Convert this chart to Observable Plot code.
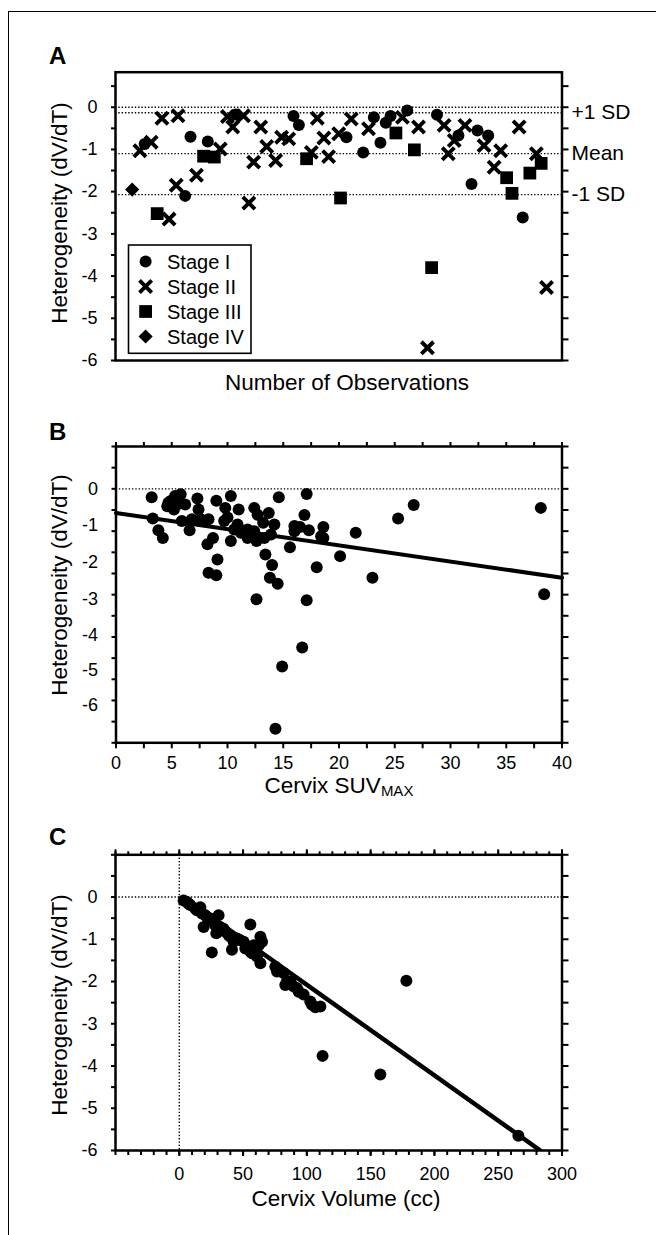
<!DOCTYPE html>
<html><head><meta charset="utf-8">
<script src="https://cdn.jsdelivr.net/npm/d3@7"></script>
<script src="https://cdn.jsdelivr.net/npm/@observablehq/plot@0.6"></script>
<style>
html,body{margin:0;padding:0;background:#fff;}
#wrap{position:relative;width:656px;height:1235px;overflow:hidden;background:#fff;}
#border{position:absolute;left:8px;top:11px;width:700px;height:1300px;border-left:1.5px solid #000;border-top:1.5px solid #000;}
.panel{position:absolute;left:0;}
#overlay{position:absolute;left:0;top:0;pointer-events:none;}
</style></head><body><div id="wrap"><div id="border"></div></div>
<script>
// ---------------- DATA ----------------
// Panel A: heterogeneity by observation, split by stage
const stageNames = ["Stage I", "Stage II", "Stage III", "Stage IV"];
const stageIObs = [4.9,11.7,12.6,15.5,20.2,29.9,30.8,38.8,41.6,43.4,44.5,45.4,46.2,49.0,54.0,57.6,59.8,60.8,62.6,68.4];
const stageIHet = [-0.87,-2.10,-0.70,-0.81,-0.17,-0.21,-0.42,-0.71,-1.07,-0.24,-0.84,-0.37,-0.21,-0.08,-0.18,-0.67,-1.82,-0.55,-0.67,-2.61];
const stageIIObs = [4.1,6.0,7.8,9.0,10.2,10.5,13.6,17.6,18.8,19.7,21.5,22.4,23.2,24.4,25.4,26.9,27.9,29.1,32.9,33.9,35.0,35.8,37.5,39.6,42.5,48.2,50.9,52.4,55.2,55.9,56.9,58.7,61.9,63.6,64.7,67.8,70.7,72.4];
const stageIIHet = [-1.03,-0.83,-0.26,-2.65,-1.85,-0.20,-1.61,-0.99,-0.22,-0.47,-0.20,-2.27,-1.30,-0.47,-0.93,-1.26,-0.71,-0.75,-1.07,-0.26,-0.73,-1.17,-0.63,-0.28,-0.51,-0.24,-0.47,-5.70,-0.43,-1.10,-0.79,-0.43,-0.91,-1.42,-1.03,-0.47,-1.10,-4.27];
const stageIIIObs = [7.0,14.8,16.6,32.1,37.8,47.1,50.2,53.1,65.7,66.6,69.6,71.5];
const stageIIIHet = [-2.52,-1.16,-1.18,-1.22,-2.15,-0.61,-1.01,-3.80,-1.67,-2.04,-1.56,-1.33];
const stageIVObs = [2.8];
const stageIVHet = [-1.95];
const aMean = -1.10;
const aSD = 0.97;
const aRefLabels = ["+1 SD", "Mean", "-1 SD"];

// Panel B: heterogeneity vs cervix SUVmax
const bSuv = [3.2,3.3,3.8,4.2,4.6,4.7,4.9,5.1,5.2,5.3,5.5,5.8,5.9,6.2,6.6,6.8,7.3,7.4,7.6,8.2,8.3,8.3,8.7,9.0,9.0,9.1,9.7,9.8,10.0,10.3,10.3,10.6,10.9,11.0,11.2,11.8,11.8,12.4,12.4,12.6,12.6,12.7,13.2,13.3,13.4,13.7,13.8,13.9,14.0,14.2,14.3,14.5,14.6,14.9,15.6,16.0,16.0,16.5,16.7,16.9,17.1,17.1,17.3,18.0,18.4,18.6,18.6,20.1,21.5,23.0,25.3,26.7,38.1,38.4];
const bHet = [-0.20,-0.70,-0.98,-1.16,-0.41,-0.33,-0.29,-0.45,-0.49,-0.17,-0.37,-0.13,-0.76,-0.37,-0.98,-0.72,-0.23,-0.49,-0.72,-1.31,-0.72,-1.98,-1.16,-2.04,-0.28,-1.67,-0.76,-0.45,-0.68,-0.17,-1.23,-0.96,-0.84,-0.49,-1.04,-1.16,-0.96,-0.45,-1.00,-1.23,-2.61,-0.61,-0.80,-1.16,-1.55,-0.57,-2.10,-1.08,-1.80,-0.84,-5.67,-2.24,-0.20,-4.20,-1.38,-0.88,-1.00,-0.90,-3.75,-0.62,-0.12,-2.63,-0.98,-1.85,-1.12,-0.90,-1.16,-1.59,-1.04,-2.10,-0.70,-0.38,-0.45,-2.49];
const bFitX = [0, 40];
const bFitY = [-0.57, -2.10];
const bYLabels = ["0", "-1", "-2", "-3", "-4", "-5", "-6"];
const bYLabelPos = [0, -0.87, -1.74, -2.6, -3.45, -4.28, -5.12];

// Panel C: heterogeneity vs cervix volume
const cVol = [3.4,6.0,7.3,8.6,12.5,13.8,16.5,17.8,19.1,20.4,21.7,24.3,25.5,26.9,28.2,29.0,30.8,32.1,34.7,36.1,38.6,40.0,41.3,42.6,45.2,47.8,50.5,51.8,54.4,55.7,55.7,57.0,58.3,59.6,60.9,62.3,63.6,63.6,64.9,75.3,76.6,81.8,83.1,84.4,87.1,89.7,92.3,93.6,97.5,102.7,104.0,106.7,110.6,112.3,157.6,178.0,265.8];
const cHet = [-0.08,-0.12,-0.16,-0.19,-0.27,-0.31,-0.24,-0.39,-0.71,-0.43,-0.47,-0.51,-1.31,-0.59,-0.67,-0.86,-0.43,-0.71,-0.75,-0.82,-0.90,-0.94,-1.25,-1.06,-0.98,-1.02,-1.06,-1.22,-1.18,-0.65,-1.29,-1.33,-1.14,-1.25,-1.41,-1.14,-0.94,-1.57,-1.06,-1.65,-1.76,-1.80,-2.08,-2.00,-2.00,-2.12,-2.16,-2.24,-2.31,-2.47,-2.55,-2.61,-2.59,-3.76,-4.20,-1.98,-5.65];
const cFitX = [3, 283];
const cFitY = [0.0, -6.0];

// ---------------- BUILD ----------------
const FONT = '"Liberation Sans", Arial, Helvetica, sans-serif';
const zip = (xs, ys) => xs.map((x, i) => ({x, y: ys[i]}));
const aI = zip(stageIObs, stageIHet), aII = zip(stageIIObs, stageIIHet),
      aIII = zip(stageIIIObs, stageIIIHet), aIV = zip(stageIVObs, stageIVHet);
const bPts = zip(bSuv, bHet), bFit = zip(bFitX, bFitY);
const cPts = zip(cVol, cHet), cFit = zip(cFitX, cFitY);
const aRefs = [aMean + aSD, aMean, aMean - aSD].map((v, i) => ({v, label: aRefLabels[i]}));
const bLab = bYLabels.map((t, i) => ({t, p: bYLabelPos[i]}));

const dotted = {stroke: "#000", strokeWidth: 1.4, strokeDasharray: "1.4,1.9"};
const styleObj = {fontFamily: FONT, fontSize: "18px", color: "#000", background: "transparent", overflow: "visible"};
const intLabel = d => (Number.isInteger(d) && d <= 0) ? String(d) : "";
const sym = {
  "Stage I": {symbol: "circle", r: 6, fill: "#000", stroke: "none"},
  "Stage II": {symbol: "times", r: 5.6, fill: "none", stroke: "#000", strokeWidth: 3.9},
  "Stage III": {symbol: "square", r: 7.2, fill: "#000", stroke: "none"},
  "Stage IV": {symbol: "diamond2", r: 6.4, fill: "#000", stroke: "none"}
};
const yTicks = (lo, hi) => d3.range(lo, hi + 1e-9, 0.5).filter(v => v >= lo - 1e-9);

function yAxes(top) {
  return [
    Plot.axisY(yTicks(-6, top), {anchor: "left", tickSize: 4, tickPadding: 14, strokeWidth: 2, tickFormat: intLabel, label: null, fontSize: 18}),
    Plot.axisY(yTicks(-6, top), {anchor: "right", tickSize: 6, strokeWidth: 2, tickFormat: () => "", label: null})
  ];
}

// Panel A
const plotA = Plot.plot({
  width: 656, height: 340, marginTop: 11.7, marginBottom: 40, marginLeft: 115, marginRight: 94.5,
  style: styleObj,
  x: {domain: [0, 75], axis: null},
  y: {domain: [-6, 0.83], axis: null},
  marks: [
    Plot.ruleY([0], dotted),
    Plot.ruleY(aRefs, {y: "v", ...dotted}),
    ...yAxes(0.83),
    Plot.text(aRefs, {y: "v", text: "label", frameAnchor: "right", dx: 9.5, textAnchor: "start", lineAnchor: "middle", fontSize: 21}),
    Plot.dot(aI, {x: "x", y: "y", ...sym["Stage I"]}),
    Plot.dot(aII, {x: "x", y: "y", ...sym["Stage II"]}),
    Plot.dot(aIII, {x: "x", y: "y", ...sym["Stage III"]}),
    Plot.dot(aIV, {x: "x", y: "y", ...sym["Stage IV"]}),
    Plot.frame({stroke: "#000", strokeWidth: 2.5})
  ]
});

// Panel B
const plotB = Plot.plot({
  width: 656, height: 352.3, marginTop: 16, marginBottom: 40, marginLeft: 115.5, marginRight: 94.5,
  style: styleObj,
  x: {domain: [0, 40], axis: null},
  y: {domain: [-6, 1], axis: null},
  marks: [
    Plot.ruleY([0], dotted),
    Plot.axisY(yTicks(-6, 1), {anchor: "left", tickSize: 4, strokeWidth: 2, tickFormat: () => "", label: null}),
    Plot.axisY(yTicks(-6, 1), {anchor: "right", tickSize: 6, strokeWidth: 2, tickFormat: () => "", label: null}),
    Plot.text(bLab, {y: "p", text: "t", frameAnchor: "left", dx: -18, textAnchor: "end", lineAnchor: "middle", fontSize: 18}),
    Plot.axisX(d3.range(0, 40.01, 2.5), {anchor: "top", tickSize: 5, strokeWidth: 2, tickFormat: () => "", label: null}),
    Plot.axisX(d3.range(0, 40.01, 2.5), {anchor: "bottom", tickSize: 6, tickPadding: 7, strokeWidth: 2, tickFormat: d => d % 5 === 0 ? String(d) : "", label: null, fontSize: 18}),
    Plot.line(bFit, {x: "x", y: "y", stroke: "#000", strokeWidth: 4}),
    Plot.dot(bPts, {x: "x", y: "y", ...sym["Stage I"]}),
    Plot.frame({stroke: "#000", strokeWidth: 2.5})
  ]
});

// Panel C
const plotC = Plot.plot({
  width: 656, height: 350, marginTop: 14.3, marginBottom: 40, marginLeft: 115, marginRight: 94.5,
  style: styleObj,
  x: {domain: [-50, 300], axis: null},
  y: {domain: [-6, 1], axis: null},
  marks: [
    Plot.ruleY([0], dotted),
    Plot.ruleX([0], dotted),
    ...yAxes(1),
    Plot.axisX(d3.range(-50, 300.1, 10), {anchor: "top", tickSize: 4, strokeWidth: 2, tickFormat: () => "", label: null}),
    Plot.axisX(d3.range(-50, 300.1, 50), {anchor: "top", tickSize: 6, strokeWidth: 2, tickFormat: () => "", label: null}),
    Plot.axisX(d3.range(-50, 300.1, 10), {anchor: "bottom", tickSize: 5, strokeWidth: 2, tickFormat: () => "", label: null}),
    Plot.axisX(d3.range(0, 300.1, 50), {anchor: "bottom", tickSize: 6, tickPadding: 11, strokeWidth: 2, label: null, fontSize: 18, tickFormat: d => String(d)}),
    Plot.line(cFit, {x: "x", y: "y", stroke: "#000", strokeWidth: 4.5, clip: true}),
    Plot.dot(cPts, {x: "x", y: "y", ...sym["Stage I"]}),
    Plot.frame({stroke: "#000", strokeWidth: 2.5})
  ]
});

const wrap = document.getElementById("wrap");
[[plotA, 60], [plotB, 430], [plotC, 840]].forEach(([p, top]) => {
  p.classList.add("panel");
  p.style.top = top + "px";
  wrap.appendChild(p);
});

// Overlay: panel letters, axis titles, legend
const ov = d3.select(wrap).append("svg").attr("id", "overlay")
  .attr("width", 656).attr("height", 1235)
  .style("font-family", FONT);

const letters = [{t: "A", y: 63.5}, {t: "B", y: 440}, {t: "C", y: 845}];
ov.selectAll("text.letter").data(letters).join("text")
  .attr("x", 49).attr("y", d => d.y).attr("font-size", 24).attr("font-weight", "bold").text(d => d.t);

const yTitleCenters = [213, 585, 1005];
ov.selectAll("text.ytitle").data(yTitleCenters).join("text")
  .attr("transform", d => `translate(67,${d}) rotate(-90)`)
  .attr("text-anchor", "middle").attr("font-size", 22.5).text("Heterogeneity (dV/dT)");

ov.append("text").attr("x", 347).attr("y", 390).attr("text-anchor", "middle").attr("font-size", 22.5).text("Number of Observations");
const sv = ov.append("text").attr("x", 339).attr("y", 793).attr("text-anchor", "middle").attr("font-size", 22.5);
sv.append("tspan").text("Cervix SUV");
sv.append("tspan").attr("font-size", 15).attr("dy", 3).text("MAX");
ov.append("text").attr("x", 346).attr("y", 1206).attr("text-anchor", "middle").attr("font-size", 22.5).text("Cervix Volume (cc)");

// Legend (panel A)
const lg = ov.append("g");
lg.append("rect").attr("x", 128.5).attr("y", 245).attr("width", 122.5).attr("height", 108.3)
  .attr("fill", "#fff").attr("stroke", "#000").attr("stroke-width", 1.6);
const symType = {circle: d3.symbolCircle, times: d3.symbolTimes, square: d3.symbolSquare, diamond2: d3.symbolDiamond2};
stageNames.forEach((name, i) => {
  const cy = 261.5 + i * 25;
  const s = sym[name];
  lg.append("path")
    .attr("transform", `translate(145.6,${cy})`)
    .attr("d", d3.symbol(symType[s.symbol], Math.PI * s.r * s.r)())
    .attr("fill", s.fill).attr("stroke", s.stroke).attr("stroke-width", s.strokeWidth || 0);
  lg.append("text").attr("x", 167).attr("y", cy + 7).attr("font-size", 20).text(name);
});
</script></body></html>
